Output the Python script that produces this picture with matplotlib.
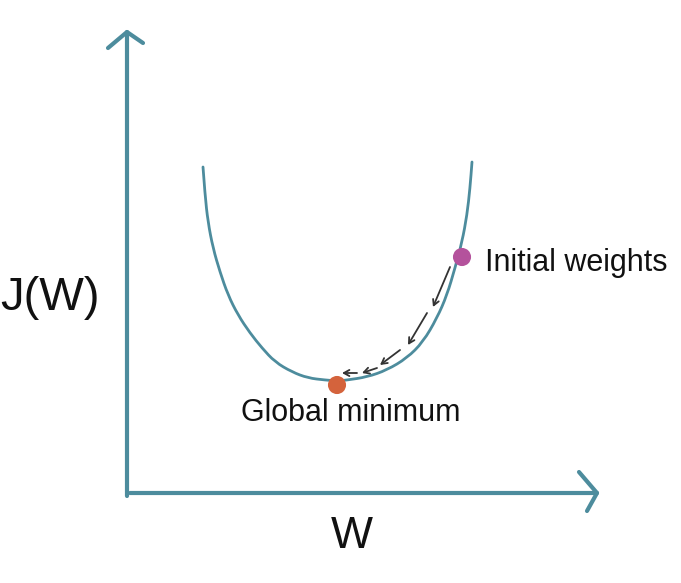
import matplotlib
matplotlib.use("Agg")
import matplotlib.pyplot as plt
from matplotlib.path import Path
from matplotlib.patches import PathPatch

# cost curve J(w) (origin at the axes corner)
curve_w = [76, 78, 81, 86, 93, 101, 111, 123, 135, 148, 165, 181, 198, 211,
           220, 240, 260, 280, 296, 310, 320, 328, 335, 340, 343, 345]
curve_j = [326, 298, 271, 245, 221, 198, 178, 160, 145, 131, 121, 115, 113, 112,
           113, 116, 123, 135, 151, 175, 198, 225, 251, 278, 305, 331]

# gradient descent steps (start -> end)
step_w0 = [323, 300, 273, 250, 230]
step_j0 = [226, 180, 143, 125, 120]
step_w1 = [306, 281, 253, 235, 215]
step_j1 = [186, 148, 128, 120, 120]

init_pt = (335, 236)
min_pt = (210, 108)

TEAL = "#4d8c9d"
HAND = ["Liberation Sans", "DejaVu Sans"]


def smooth_path(xs, ys):
    # quadratic bezier through midpoints so the sketch line has no corners
    pts = list(zip(xs, ys))
    verts = [pts[0]]
    codes = [Path.MOVETO]
    for i in range(1, len(pts) - 1):
        mid = ((pts[i][0] + pts[i + 1][0]) / 2, (pts[i][1] + pts[i + 1][1]) / 2)
        verts += [pts[i], mid]
        codes += [Path.CURVE3, Path.CURVE3]
    verts.append(pts[-1])
    codes.append(Path.LINETO)
    return Path(verts, codes)


fig = plt.figure(figsize=(6.81, 5.83), dpi=100)
ax = fig.add_axes([0, 0, 1, 1])
ax.set_xlim(-127, 554)
ax.set_ylim(-90, 493)
ax.axis("off")

# hand-drawn style axes with open arrow heads
ax.plot([0, 0], [-3, 461], color=TEAL, lw=3.0, solid_capstyle="round")
ax.plot([-19, 0, 16], [445, 461, 450], color=TEAL, lw=3.0,
        solid_capstyle="round", solid_joinstyle="round")
ax.plot([3, 470], [0, 0], color=TEAL, lw=3.0, solid_capstyle="round")
ax.plot([452, 470, 460], [21, 0, -18], color=TEAL, lw=3.0,
        solid_capstyle="round", solid_joinstyle="round")

ax.add_patch(PathPatch(smooth_path(curve_w, curve_j), facecolor="none",
                       edgecolor=TEAL, lw=2.0, capstyle="round"))

for x0, y0, x1, y1 in zip(step_w0, step_j0, step_w1, step_j1):
    ax.annotate("", xy=(x1, y1), xytext=(x0, y0),
                arrowprops=dict(arrowstyle="->,head_length=0.4,head_width=0.22",
                                color="#333333", lw=1.3,
                                shrinkA=0, shrinkB=0))

ax.scatter([init_pt[0]], [init_pt[1]], s=170, color="#b4529c", zorder=5,
           edgecolors="none")
ax.scatter([min_pt[0]], [min_pt[1]], s=170, color="#d4633c", zorder=5,
           edgecolors="none")

ax.text(358, 230, "Initial weights", family=HAND, fontsize=22,
        ha="left", va="center", color="#111111")
ax.text(224, 80, "Global minimum", family=HAND, fontsize=22,
        ha="center", va="center", color="#111111")
ax.text(-77, 195, "J(W)", family=HAND, fontsize=34,
        ha="center", va="center", color="#111111")
ax.text(225, -44, "W", family=HAND, fontsize=32,
        ha="center", va="center", color="#111111")

fig.savefig("out.png", dpi=100)
